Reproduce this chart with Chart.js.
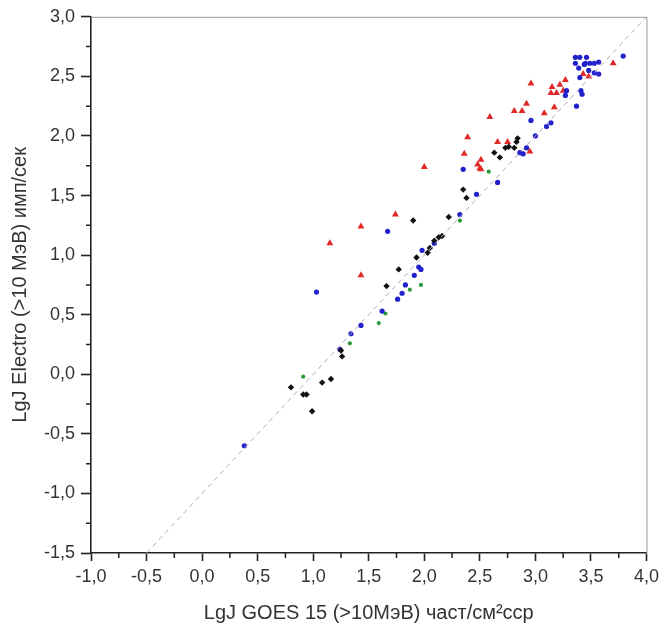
<!DOCTYPE html>
<html>
<head>
<meta charset="utf-8">
<script src="https://cdn.jsdelivr.net/npm/chart.js@4"></script>
<style>
  html, body { margin: 0; padding: 0; background: #fff; }
  #wrap { width: 664px; height: 635px; }
</style>
</head>
<body>
<div id="wrap"><canvas id="scatter" width="664" height="635"></canvas></div>
<script>
// values (lg of flux)
const blueX = [0.38, 1.03, 1.24, 1.34, 1.43, 1.62, 1.76, 1.80, 1.83, 1.91, 1.95, 1.97, 1.98, 1.67, 2.09, 2.32, 2.35, 2.47, 2.66,
  2.86, 2.89, 2.92, 2.96, 3.00, 3.10, 3.14, 3.27, 3.28, 3.37, 3.40, 3.41, 3.42,
  3.36, 3.40, 3.46, 3.36, 3.39, 3.44, 3.45, 3.49, 3.53, 3.57, 3.48, 3.53, 3.57, 3.79];
const blueY = [-0.60, 0.69, 0.21, 0.34, 0.41, 0.53, 0.63, 0.68, 0.75, 0.83, 0.90, 0.88, 1.04, 1.20, 1.10, 1.34, 1.72, 1.51, 1.61,
  1.86, 1.85, 1.90, 2.13, 2.00, 2.08, 2.11, 2.34, 2.38, 2.25, 2.49, 2.38, 2.35,
  2.66, 2.66, 2.66, 2.61, 2.57, 2.60, 2.61, 2.61, 2.61, 2.62, 2.55, 2.53, 2.52, 2.67];

const redX = [1.15, 1.43, 1.43, 1.74, 2.00, 2.36, 2.39, 2.48, 2.50, 2.51, 2.51, 2.59, 2.66, 2.75, 2.81, 2.88, 2.92, 2.95,
  2.96, 3.08, 3.14, 3.15, 3.17, 3.19, 3.22, 3.25, 3.27, 3.43, 3.48, 3.70];
const redY = [1.10, 1.24, 0.83, 1.34, 1.74, 1.85, 1.99, 1.76, 1.73, 1.80, 1.72, 2.16, 1.95, 1.95, 2.21, 2.21, 2.27, 1.87,
  2.44, 2.19, 2.36, 2.41, 2.24, 2.36, 2.43, 2.38, 2.47, 2.52, 2.50, 2.61];

const blackX = [0.80, 0.91, 0.94, 0.99, 1.08, 1.16, 1.25, 1.26, 1.66, 1.77, 1.90, 1.93, 2.03, 2.05, 2.09, 2.13, 2.16, 2.22,
  2.35, 2.38, 2.63, 2.68, 2.73, 2.76, 2.81, 2.83, 2.84];
const blackY = [-0.11, -0.17, -0.17, -0.31, -0.07, -0.04, 0.20, 0.15, 0.74, 0.88, 1.29, 0.98, 1.02, 1.06, 1.12, 1.15, 1.16, 1.32,
  1.55, 1.48, 1.86, 1.82, 1.90, 1.91, 1.90, 1.95, 1.98];

const greenX = [0.91, 1.33, 1.59, 1.65, 1.87, 1.97, 2.32, 2.58];
const greenY = [-0.02, 0.26, 0.43, 0.51, 0.71, 0.75, 1.29, 1.70];

// y = x - 1 reference line
const lineX = [-0.5, 4.0];
const lineY = [-1.5, 3.0];

const xTitle = 'LgJ GOES 15 (>10МэВ) част/см\u00B2сср';
const yTitle = 'LgJ Electro (>10 МэВ) имп/сек';

function pts(xs, ys) {
  return xs.map((x, i) => ({ x: x, y: ys[i] }));
}
function fmt(v) {
  return v.toFixed(1).replace('.', ',');
}

const fontFamily = '"Liberation Sans", Arial, sans-serif';

// minor ticks + top/right frame
const frame = {
  id: 'frame',
  afterDraw(chart) {
    const ctx = chart.ctx;
    const a = chart.chartArea;
    const xs = chart.scales.x, ys = chart.scales.y;
    ctx.save();
    ctx.strokeStyle = '#9a9a9a';
    ctx.lineWidth = 1;
    ctx.beginPath();
    ctx.moveTo(a.left, a.top + 0.5);
    ctx.lineTo(a.right + 0.5, a.top + 0.5);
    ctx.lineTo(a.right + 0.5, a.bottom);
    ctx.stroke();

    ctx.strokeStyle = '#222';
    ctx.lineWidth = 1.5;
    ctx.beginPath();
    for (let v = -0.75; v < 4; v += 0.5) {
      const px = xs.getPixelForValue(v);
      ctx.moveTo(px, a.bottom);
      ctx.lineTo(px, a.bottom + 5);
    }
    for (let v = -1.25; v < 3; v += 0.5) {
      const py = ys.getPixelForValue(v);
      ctx.moveTo(a.left, py);
      ctx.lineTo(a.left - 5, py);
    }
    ctx.stroke();
    ctx.restore();
  }
};

const ctx = document.getElementById('scatter').getContext('2d');
const chart = new Chart(ctx, {
  type: 'scatter',
  data: {
    datasets: [
      {
        type: 'line',
        data: pts(lineX, lineY),
        borderColor: '#b9a9b9',
        borderWidth: 1,
        borderDash: [5, 4],
        pointRadius: 0,
        fill: false
      },
      {
        data: pts(blackX, blackY),
        pointStyle: 'rectRot',
        pointRadius: 3.2,
        backgroundColor: '#111',
        borderColor: '#111',
        borderWidth: 0
      },
      {
        data: pts(blueX, blueY),
        pointStyle: 'circle',
        pointRadius: 2.6,
        backgroundColor: '#2222cc',
        borderColor: '#2222cc',
        borderWidth: 0
      },
      {
        data: pts(redX, redY),
        pointStyle: 'triangle',
        pointRadius: 4,
        backgroundColor: '#e02828',
        borderColor: '#e02828',
        borderWidth: 0
      },
      {
        data: pts(greenX, greenY),
        pointStyle: 'circle',
        pointRadius: 2.1,
        backgroundColor: '#2f9a3a',
        borderColor: '#2f9a3a',
        borderWidth: 0
      }
    ]
  },
  options: {
    responsive: false,
    animation: false,
    layout: { padding: { top: 15, right: 14, left: 0, bottom: 0 } },
    plugins: {
      legend: { display: false },
      tooltip: { enabled: false }
    },
    scales: {
      x: {
        type: 'linear',
        min: -1,
        max: 4,
        afterFit: (s) => { s.height = 82; },
        border: { color: '#222', width: 1.6 },
        grid: { drawOnChartArea: false, drawTicks: true, tickLength: 8, tickColor: '#222', tickWidth: 1.6 },
        ticks: {
          stepSize: 0.5,
          padding: 5,
          color: '#333',
          font: { family: fontFamily, size: 18 },
          callback: (v) => fmt(v)
        },
        title: {
          display: true,
          text: xTitle,
          color: '#333',
          font: { family: fontFamily, size: 20 },
          padding: { top: 4, bottom: 10 }
        }
      },
      y: {
        type: 'linear',
        min: -1.5,
        max: 3,
        afterFit: (s) => { s.width = 91; },
        border: { color: '#222', width: 1.6 },
        grid: { drawOnChartArea: false, drawTicks: true, tickLength: 10, tickColor: '#222', tickWidth: 1.6 },
        ticks: {
          stepSize: 0.5,
          padding: 6,
          color: '#333',
          font: { family: fontFamily, size: 18 },
          callback: (v) => fmt(v)
        },
        title: {
          display: true,
          text: yTitle,
          color: '#333',
          font: { family: fontFamily, size: 20 },
          padding: { bottom: 0, top: 8 }
        }
      }
    }
  },
  plugins: [frame]
});
</script>
</body>
</html>
